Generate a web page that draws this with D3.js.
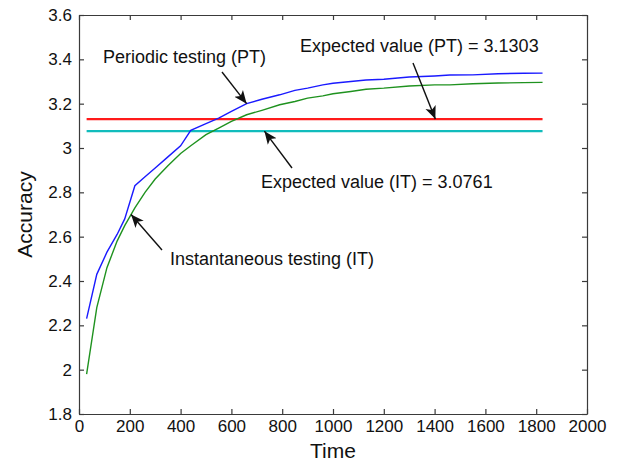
<!DOCTYPE html>
<html>
<head>
<meta charset="utf-8">
<script src="https://cdn.jsdelivr.net/npm/d3@7"></script>
<style>
	body { margin: 0; background: #fff; }
	text { font-family: 'Liberation Sans', Arial, sans-serif; }
</style>
</head>
<body>
<div class="chart"></div>
<script>
// data
var timeVals = [30, 70, 110, 150, 180, 220, 260, 300, 350, 400, 440, 500, 550, 600, 660, 720,
				790, 850, 900, 960, 1000, 1070, 1130, 1200, 1300, 1400, 1460, 1550, 1650, 1750, 1825];
var ptVals = [2.23, 2.43, 2.53, 2.61, 2.68, 2.83, 2.87, 2.91, 2.96, 3.01, 3.08, 3.11, 3.135, 3.165, 3.20, 3.22,
				3.24, 3.26, 3.27, 3.285, 3.292, 3.30, 3.307, 3.31, 3.32, 3.325, 3.329, 3.33, 3.335, 3.337, 3.338];
var itVals = [1.98, 2.28, 2.46, 2.58, 2.65, 2.73, 2.80, 2.86, 2.92, 2.975, 3.01, 3.06, 3.09, 3.12, 3.15, 3.17,
				3.195, 3.21, 3.225, 3.235, 3.245, 3.255, 3.265, 3.27, 3.28, 3.285, 3.285, 3.29, 3.293, 3.295, 3.296];
var expectedPT = 3.1303, expectedIT = 3.0761;
var xTicks = [0, 200, 400, 600, 800, 1000, 1200, 1400, 1600, 1800, 2000];
var yTicks = [1.8, 2, 2.2, 2.4, 2.6, 2.8, 3, 3.2, 3.4, 3.6];

var width = 618, height = 464;
var mLeft = 79, mRight = 587, mTop = 15, mBottom = 414;
var axisColor = '#3a3a3a', textColor = '#111';

var svg = d3.select('.chart')
			.append('svg')
			.attr('width', width)
			.attr('height', height);

var x = d3.scaleLinear().domain([0, 2000]).range([mLeft, mRight]);
var y = d3.scaleLinear().domain([1.8, 3.6]).range([mBottom, mTop]);

svg.append('defs').append('marker')
	.attr('id', 'arrow')
	.attr('viewBox', '0 0 10 10')
	.attr('refX', 10)
	.attr('refY', 5)
	.attr('markerWidth', 13)
	.attr('markerHeight', 13)
	.attr('markerUnits', 'userSpaceOnUse')
	.attr('orient', 'auto')
	.append('path')
	.attr('d', 'M0,0.8 L10,5 L0,9.2 L2.5,5 Z')
	.attr('fill', '#111');

// expected value lines
var hLines = [[expectedPT, '#ff1a1a'], [expectedIT, '#11bcbc']];
hLines.forEach(function(h){
	svg.append('line')
		.attr('x1', x(timeVals[0]))
		.attr('x2', x(timeVals[timeVals.length-1]))
		.attr('y1', y(h[0]))
		.attr('y2', y(h[0]))
		.attr('stroke', h[1])
		.attr('stroke-width', 2.2);
});

var line = d3.line()
			.x(function(d, i){ return x(timeVals[i]); })
			.y(function(d){ return y(d); });

svg.append('path')
	.datum(itVals)
	.attr('d', line)
	.attr('fill', 'none')
	.attr('stroke', '#1f921f')
	.attr('stroke-width', 1.4);
svg.append('path')
	.datum(ptVals)
	.attr('d', line)
	.attr('fill', 'none')
	.attr('stroke', '#1a1aff')
	.attr('stroke-width', 1.4);

// axes (box with inward ticks)
var xAxisB = d3.axisBottom(x).tickValues(xTicks).tickSizeInner(-5).tickSizeOuter(0).tickPadding(6)
			.tickFormat(d3.format('d'));
var xAxisT = d3.axisTop(x).tickValues(xTicks).tickSizeInner(-5).tickSizeOuter(0).tickFormat('');
var yAxisL = d3.axisLeft(y).tickValues(yTicks).tickSizeInner(-5).tickSizeOuter(0).tickPadding(7)
			.tickFormat(function(d){ return String(+d.toFixed(1)); });
var yAxisR = d3.axisRight(y).tickValues(yTicks).tickSizeInner(-5).tickSizeOuter(0).tickFormat('');

function styleAxis(g){
	g.select('.domain').attr('stroke', axisColor).attr('stroke-width', 1.2);
	g.selectAll('.tick line').attr('stroke', axisColor).attr('stroke-width', 1.2);
	g.selectAll('.tick text').attr('fill', textColor).attr('font-size', 17)
		.attr('font-family', "'Liberation Sans', Arial, sans-serif");
}
svg.append('g').attr('transform', 'translate(0,' + mBottom + ')').call(xAxisB).call(styleAxis);
svg.append('g').attr('transform', 'translate(0,' + mTop + ')').call(xAxisT).call(styleAxis);
svg.append('g').attr('transform', 'translate(' + mLeft + ',0)').call(yAxisL).call(styleAxis);
svg.append('g').attr('transform', 'translate(' + mRight + ',0)').call(yAxisR).call(styleAxis);

svg.append('text')
	.attr('x', (mLeft + mRight)/2)
	.attr('y', 458)
	.attr('text-anchor', 'middle')
	.attr('font-size', 21)
	.attr('fill', textColor)
	.text('Time');
svg.append('text')
	.attr('transform', 'translate(32,' + (mTop + mBottom)/2 + ') rotate(-90)')
	.attr('text-anchor', 'middle')
	.attr('font-size', 21)
	.attr('fill', textColor)
	.text('Accuracy');

// annotations: [label, textX, textY, arrow start x, y, arrow tip (time, value)]
var notes = [
	['Periodic testing (PT)', 103, 63, 222, 72, 660, 3.20],
	['Expected value (PT) = 3.1303', 300, 52, 413, 63, 1403, expectedPT],
	['Expected value (IT) = 3.0761', 261, 188, 292, 168, 730, expectedIT],
	['Instantaneous testing (IT)', 170, 265, 162, 250, 205, 2.70]
];
notes.forEach(function(n){
	svg.append('text')
		.attr('x', n[1])
		.attr('y', n[2])
		.attr('font-size', 18)
		.attr('fill', textColor)
		.text(n[0]);
	svg.append('line')
		.attr('x1', n[3])
		.attr('y1', n[4])
		.attr('x2', x(n[5]))
		.attr('y2', y(n[6]))
		.attr('stroke', '#111')
		.attr('stroke-width', 1.4)
		.attr('marker-end', 'url(#arrow)');
});
</script>
</body>
</html>
